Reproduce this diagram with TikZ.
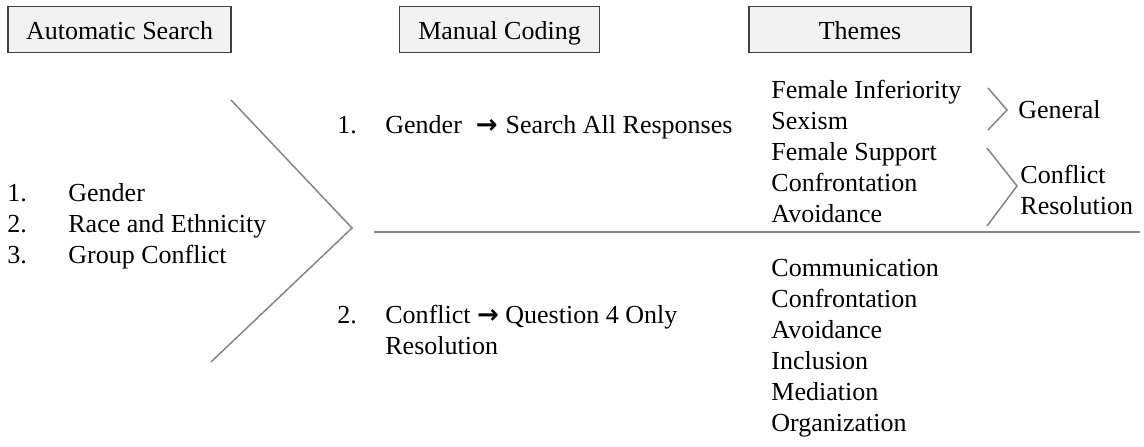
\documentclass[tikz,border=0pt]{standalone}
\usepackage{fontspec}
\setmainfont{Liberation Serif}
\newfontfamily\arrowfont{DejaVu Sans}
\newcommand{\toarrow}{{\arrowfont\bfseries →}}
\definecolor{boxedge}{HTML}{404040}
\definecolor{boxfill}{HTML}{F2F2F2}
\definecolor{guidegray}{HTML}{858585}
\tikzset{
  headbox/.style={draw=boxedge,fill=boxfill,line width=0.8pt,minimum height=23pt,inner sep=0pt,
    text height=12.6pt,text depth=2.6pt,font=\fontsize{13}{15.5}\selectfont},
  item/.style={inner sep=0pt,anchor=base west,font=\fontsize{13}{15.5}\selectfont},
  guide/.style={draw=guidegray,line width=0.75pt},
}
\begin{document}
\begin{tikzpicture}[x=0.5pt,y=-0.5pt]
                \useasboundingbox (0,0) rectangle (1144,446);

                \node[headbox,minimum width=111.5pt] (autosearch) at (119.5,29.5) {Automatic Search};
                \node[headbox,minimum width=100pt] (manualcoding) at (499.5,29.5) {Manual Coding};
                \node[headbox,minimum width=111pt] (themes) at (860,29.5) {Themes};

                \foreach \t [count=\i] in {Gender,Race and Ethnicity,Group Conflict} {
                    \node[item] (num\i) at (7,{201+31*(\i-1)}) {\i.};
                    \node[item] (topic\i) at (68,{201+31*(\i-1)}) {\t};
                }

                \coordinate (chevtop) at (231,100);
                \coordinate (chevtip) at (352,228);
                \coordinate (chevbot) at (211,362);
                \draw[guide] (chevtop) -- (chevtip) -- (chevbot);

                \node[item] (codenum1) at (337,133) {1.};
                \node[item] (code1) at (385,133) {Gender\hspace{7pt}\toarrow\hspace{4pt}Search All Responses};
                \node[item] (codenum2) at (337,323) {2.};
                \node[item] (code2) at (385,323) {Conflict \toarrow\ Question 4 Only};
                \node[item] (code2b) at (385,354) {Resolution};

                \coordinate (splitleft) at (374,232);
                \coordinate (splitright) at (1140,232);
                \draw[guide] (splitleft) -- (splitright);

                \foreach \t [count=\i] in {Female Inferiority,Sexism,Female Support,Confrontation,Avoidance} {
                    \node[item] (up\i) at (771,{98+31*(\i-1)}) {\t};
                }
                \foreach \t [count=\i] in {Communication,Confrontation,Avoidance,Inclusion,Mediation,Organization} {
                    \node[item] (low\i) at (771,{276+31*(\i-1)}) {\t};
                }

                \coordinate (gentop) at (988,88);
                \coordinate (gentip) at (1007,110);
                \coordinate (genbot) at (988,130);
                \draw[guide] (gentop) -- (gentip) -- (genbot);
                \node[item] (general) at (1018,118) {General};

                \coordinate (crtop) at (987,148);
                \coordinate (crtip) at (1017,186);
                \coordinate (crbot) at (987,226);
                \draw[guide] (crtop) -- (crtip) -- (crbot);
                \node[item] (conflict) at (1020,183) {Conflict};
                \node[item] (resolution) at (1020,214) {Resolution};
            \end{tikzpicture}
\end{document}
